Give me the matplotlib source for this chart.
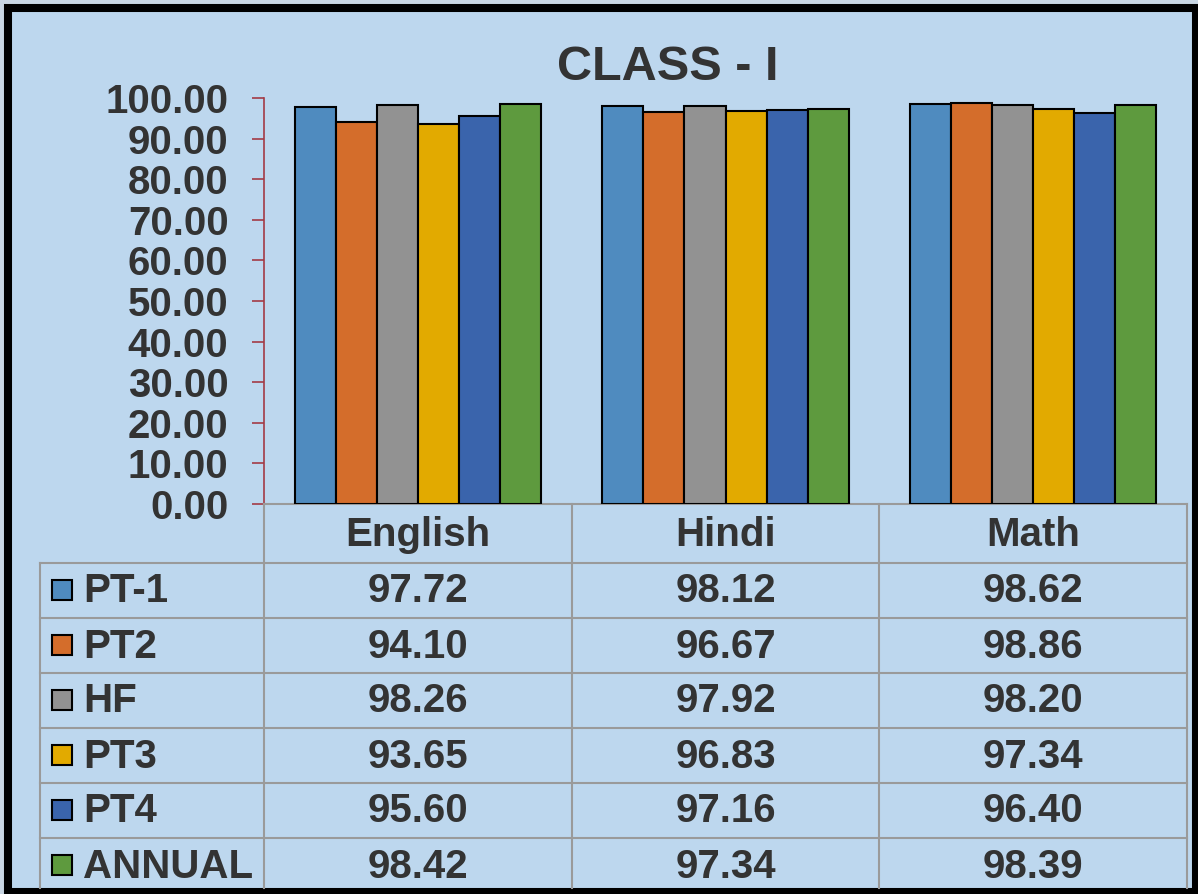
import matplotlib
matplotlib.use("Agg")
import matplotlib.pyplot as plt
from matplotlib.patches import Rectangle
import numpy as np

categories = ["English", "Hindi", "Math"]
series_names = ["PT-1", "PT2", "HF", "PT3", "PT4", "ANNUAL"]
pt1 = [97.72, 98.12, 98.62]
pt2 = [94.10, 96.67, 98.86]
hf = [98.26, 97.92, 98.20]
pt3 = [93.65, 96.83, 97.34]
pt4 = [95.60, 97.16, 96.40]
annual = [98.42, 97.34, 98.39]
series_values = [pt1, pt2, hf, pt3, pt4, annual]
colors = ["#4F8BBF", "#D46D2B", "#929292", "#E2AA00", "#3A64AC", "#5E9A3E"]
yticks = [0, 10, 20, 30, 40, 50, 60, 70, 80, 90, 100]
title = "CLASS - I"

W, H = 1198, 894
BG = "#BDD7EE"
TXT = "#333333"
GRID = "#9A9A9A"
plt.rcParams['font.family'] = ['Liberation Sans', 'DejaVu Sans']

fig = plt.figure(figsize=(W / 100, H / 100), dpi=100)
fig.patch.set_facecolor("#C9D6E3")
fig.patches.append(Rectangle((8 / W, 1 - 892 / H), (1196 - 8) / W, (892 - 8) / H,
                             transform=fig.transFigure, facecolor=BG,
                             edgecolor="black", linewidth=5.8, zorder=-10))

# main axes
x_left, x_right = 264, 1187
y_top, y_bot = 98, 504
ax = fig.add_axes([x_left / W, 1 - y_bot / H, (x_right - x_left) / W, (y_bot - y_top) / H])
ax.set_facecolor("none")
n = len(series_names)
xs = np.arange(len(categories))
gw = 0.8
bw = gw / n
for i, (name, vals, c) in enumerate(zip(series_names, series_values, colors)):
    ax.bar(xs - gw / 2 + bw * (i + 0.5), vals, width=bw, color=c,
           edgecolor="black", linewidth=1.5, zorder=3, label=name)
ax.set_xlim(-0.5, len(categories) - 0.5)
ax.set_ylim(0, 100)
ax.set_yticks(yticks)
ax.set_yticklabels([f"{v:.2f}" for v in yticks], fontsize=29, fontweight="bold", color=TXT)
ax.tick_params(axis="y", length=8.6, width=1.2, color="#A33A45", pad=17)
ax.set_xticks([])
for s in ["top", "right"]:
    ax.spines[s].set_visible(False)
ax.spines["left"].set_color("#A33A45")
ax.spines["left"].set_linewidth(1.2)
ax.spines["bottom"].set_color(GRID)
ax.spines["bottom"].set_linewidth(1.5)

fig.text(668 / W, 1 - 80 / H, title, fontsize=35, fontweight="bold", color=TXT,
         ha="center", va="baseline")

# table drawn in pixel coordinates
tax = fig.add_axes([0, 0, 1, 1])
tax.set_xlim(0, W)
tax.set_ylim(H, 0)
tax.axis("off")
tax.set_facecolor("none")

col_w = (x_right - x_left) / len(categories)
label_left = 40
header_h = 59
row_h = 55
row0 = y_bot + header_h
bottom_px = 888
lw = 1.5
# vertical lines
for k in range(len(categories) + 1):
    xv = x_left + k * col_w
    tax.plot([xv, xv], [y_bot, bottom_px], color=GRID, lw=lw, zorder=1)
tax.plot([label_left, label_left], [row0, bottom_px], color=GRID, lw=lw, zorder=1)
# horizontal lines
for r in range(len(series_names)):
    yh = row0 + r * row_h
    tax.plot([label_left, x_right], [yh, yh], color=GRID, lw=lw, zorder=1)

for k, cat in enumerate(categories):
    tax.text(x_left + (k + 0.5) * col_w, y_bot + header_h / 2 + 1, cat, fontsize=29,
             fontweight="bold", color=TXT, ha="center", va="center")

for r, (name, vals, c) in enumerate(zip(series_names, series_values, colors)):
    yc = row0 + (r + 0.5) * row_h
    tax.add_patch(Rectangle((52, yc - 11), 20, 20, facecolor=c, edgecolor="black",
                            linewidth=1.5, zorder=2))
    tax.text(83, yc + 1, name, fontsize=29, fontweight="bold", color=TXT,
             ha="left", va="center")
    for k, v in enumerate(vals):
        tax.text(x_left + (k + 0.5) * col_w, yc + 1, f"{v:.2f}", fontsize=29,
                 fontweight="bold", color=TXT, ha="center", va="center")

fig.savefig("out.png", dpi=100, facecolor=fig.get_facecolor())
